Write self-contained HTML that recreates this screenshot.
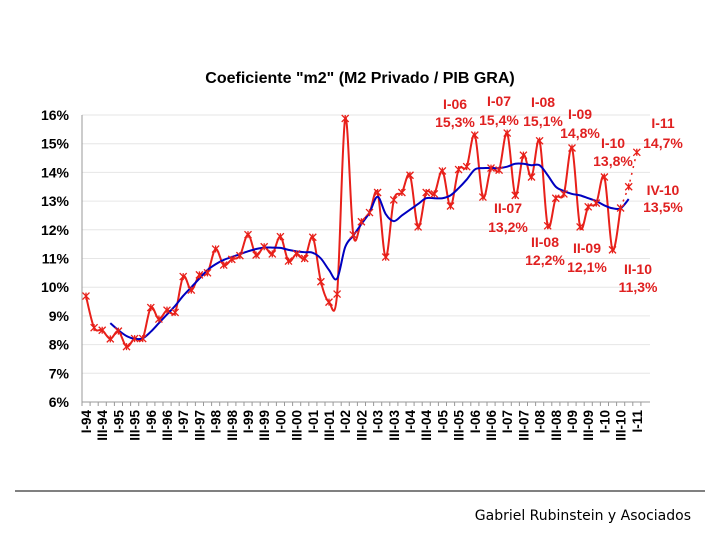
<!DOCTYPE html>
<html><head><meta charset="utf-8"><style>
body{margin:0;background:#fff;}
svg{display:block;font-family:"Liberation Sans",Arial,sans-serif;}
</style></head><body>
<svg id="chart" width="720" height="540" viewBox="0 0 720 540">
<text x="360" y="83" text-anchor="middle" font-size="16" font-weight="bold" fill="#000">Coeficiente "m2" (M2 Privado / PIB GRA)</text>
<g id="grid"></g><g id="yaxis"></g><g id="xaxis"></g><g id="series"></g><g id="annots"></g>
<line x1="15" y1="491" x2="705" y2="491" stroke="#000" stroke-width="1"/>
<text x="691" y="520" text-anchor="end" font-size="14" font-family="DejaVu Sans, sans-serif" fill="#000">Gabriel Rubinstein y Asociados</text>
</svg>
<script>
const yTicks=[6,7,8,9,10,11,12,13,14,15,16];
const red=[9.69,8.59,8.5,8.2, 8.47,7.93,8.21,8.21, 9.29,8.89,9.2,9.12, 10.37,9.9,10.43,10.5, 11.33,10.77,10.97,11.1, 11.83,11.12,11.41,11.16, 11.76,10.91,11.16,11.0, 11.74,10.19,9.48,9.76, 15.88,11.82,12.28,12.6, 13.3,11.05,13.04,13.3, 13.9,12.1,13.3,13.25, 14.05,12.83,14.1,14.2, 15.3,13.14,14.15,14.08, 15.37,13.2,14.6,13.84, 15.1,12.14,13.1,13.25, 14.85,12.1,12.8,12.93, 13.84,11.3,12.76,13.5, 14.7];
const trendStart=3;
const trend=[8.75,8.5,8.3,8.2,8.22,8.45,8.75,9.05,9.35,9.7,10.0,10.3,10.6,10.8,10.95,11.05,11.15,11.25,11.33,11.38,11.38,11.37,11.3,11.25,11.22,11.2,11.0,10.6,10.3,11.4,11.8,12.2,12.6,13.15,12.55,12.3,12.5,12.7,12.9,13.1,13.1,13.1,13.2,13.45,13.75,14.1,14.15,14.15,14.15,14.2,14.3,14.3,14.25,14.25,13.9,13.5,13.35,13.25,13.2,13.1,13.0,12.85,12.75,12.75,13.07];
const annots=[["I-06","15,3%",455,109,127],["I-07","15,4%",499,106,125],["I-08","15,1%",543,107,126],["I-09","14,8%",580,119,138],["I-10","13,8%",613,148,166],["I-11","14,7%",663,128,148],["IV-10","13,5%",663,195,212],["II-07","13,2%",508,213,232],["II-08","12,2%",545,247,265],["II-09","12,1%",587,253,272],["II-10","11,3%",638,274,292]];
const NS="http://www.w3.org/2000/svg";
const X0=86,DX=8.1,Y0=402,DY=28.7;
const xs=i=>X0+DX*i, ys=v=>Y0-(v-6)*DY;
function mk(tag,attrs,parent,txt){const e=document.createElementNS(NS,tag);for(const k in attrs)e.setAttribute(k,attrs[k]);if(txt!==undefined)e.textContent=txt;document.getElementById(parent).appendChild(e);return e;}
function smooth(pts){let d='M'+pts[0][0]+','+pts[0][1];
 for(let i=0;i<pts.length-1;i++){const p0=pts[Math.max(0,i-1)],p1=pts[i],p2=pts[i+1],p3=pts[Math.min(pts.length-1,i+2)];
  const c1x=p1[0]+(p2[0]-p0[0])/6,c1y=p1[1]+(p2[1]-p0[1])/6,c2x=p2[0]-(p3[0]-p1[0])/6,c2y=p2[1]-(p3[1]-p1[1])/6;
  d+=`C${c1x},${c1y} ${c2x},${c2y} ${p2[0]},${p2[1]}`;}
 return d;}
yTicks.forEach(t=>{
 const g=mk('line',{x1:82,x2:650,y1:ys(t),y2:ys(t),stroke:t===6?'#999':'#e6e6e6','stroke-width':1},'grid');
 
 
 const l=mk('text',{x:69,y:ys(t)+5,'text-anchor':'end','font-size':14,'font-weight':'bold'},'yaxis',t+'%');
 
 
});
mk('line',{x1:82,x2:82,y1:ys(16),y2:ys(6),stroke:'#999'},'yaxis');
const romans=['I','II','III','IV'];
for(let i=0;i<=69;i++){
 mk('line',{x1:82+DX*i,x2:82+DX*i,y1:402,y2:406,stroke:'#999'},'xaxis');
}
for(let i=0;i<red.length;i+=2){
 const yr=(94+Math.floor(i/4))%100;const lab=romans[i%4]+'-'+String(yr).padStart(2,'0');
 const t=mk('text',{x:0,y:0,'text-anchor':'end','font-size':13.5,'font-weight':'bold',transform:`translate(${xs(i)+5},410) rotate(-90)`},'xaxis',lab);
 
 
}
const last=red.length-1;
const rpts=red.slice(0,last-1).map((v,i)=>[xs(i),ys(v)]);
const rl=mk('path',{d:smooth(rpts),fill:'none',stroke:'#e8201a','stroke-width':2},'series');


const rd=mk('path',{d:`M${xs(last-2)},${ys(red[last-2])}L${xs(last-1)},${ys(red[last-1])}L${xs(last)},${ys(red[last])}`,fill:'none',stroke:'#e8201a','stroke-width':1.5,'stroke-dasharray':'2,5'},'series');


const tpts=trend.map((v,k)=>[xs(trendStart+k),ys(v)]);
const bl=mk('path',{d:smooth(tpts),fill:'none',stroke:'#0000c0','stroke-width':2},'series');


red.forEach((v,i)=>{const x=xs(i),y=ys(v),s=3.5;
 const m=mk('path',{d:`M${x-s},${y-s}L${x+s},${y+s}M${x-s},${y+s}L${x+s},${y-s}M${x},${y-s}L${x},${y+s}`,stroke:'#e8201a','stroke-width':1.3},'series');
 
 
});
annots.forEach(a=>{
 const t1=mk('text',{x:a[2],y:a[3],'text-anchor':'middle','font-size':14,'font-weight':'bold',fill:'#e02020'},'annots',a[0]);
 
 
 const t2=mk('text',{x:a[2],y:a[4],'text-anchor':'middle','font-size':14,'font-weight':'bold',fill:'#e02020'},'annots',a[1]);
 
 
});
</script>
</body></html>
